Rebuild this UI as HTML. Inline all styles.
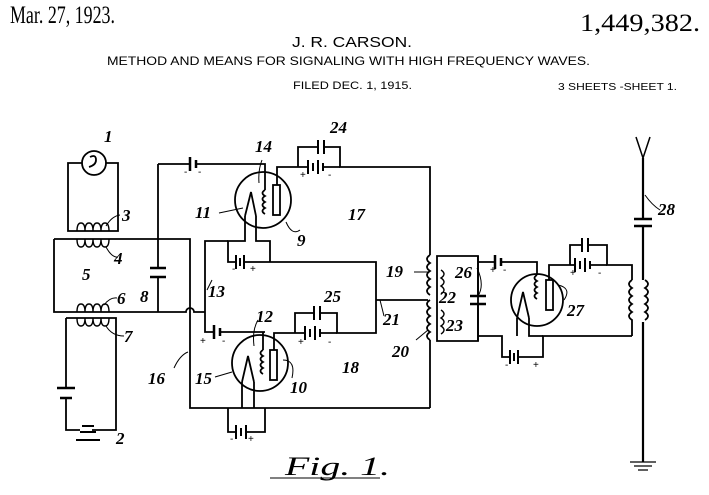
<!DOCTYPE html>
<html><head><meta charset="utf-8"><style>
html,body{margin:0;padding:0;background:#fff;}
svg{display:block;}
text{font-family:"Liberation Sans",sans-serif;fill:#000;}
.s{font-family:"Liberation Serif",serif;}
.n{font-family:"Liberation Serif",serif;font-style:italic;font-weight:bold;font-size:17px;}
</style></head><body>
<svg width="709" height="495" viewBox="0 0 709 495" xmlns="http://www.w3.org/2000/svg">
<g>
<text class="s" x="10" y="23" font-size="25" textLength="105" lengthAdjust="spacingAndGlyphs">Mar. 27, 1923.</text>
<text class="s" x="580" y="31" font-size="25" textLength="120" lengthAdjust="spacingAndGlyphs">1,449,382.</text>
<text x="292" y="47" font-size="15" textLength="120" lengthAdjust="spacingAndGlyphs">J. R. CARSON.</text>
<text x="107" y="65" font-size="12" textLength="483" lengthAdjust="spacingAndGlyphs">METHOD AND MEANS FOR SIGNALING WITH HIGH FREQUENCY WAVES.</text>
<text x="293" y="89" font-size="11" textLength="119" lengthAdjust="spacingAndGlyphs">FILED DEC. 1, 1915.</text>
<text x="558" y="90" font-size="10" textLength="119" lengthAdjust="spacingAndGlyphs">3 SHEETS -SHEET 1.</text>
</g>
<g fill="none" stroke="#000" stroke-width="1.8">
<circle cx="94" cy="163" r="12"/>
<path d="M90 157 q6 -3 6 3 q0 5 -7 7"/>
<path d="M82 163 H68 V231 H118 V163 H106"/>
<path d="M54 239 H158 M54 239 V312 H158"/>
<path d="M158 239 H190 V408 H430"/>
<path d="M158 312 H186 a4 4 0 0 1 8 0 H205"/>
<path d="M158 164 V268 M158 277 V312"/>
<path d="M150 268 H166 M150 277 H166" stroke-width="2.5"/>
<path d="M158 164 H190 M196 164 H265 V190"/>
<path d="M190 157 V171 M196 160 V168" stroke-width="2.5"/>
<circle cx="263" cy="200" r="28"/>
<path d="M245 216 L251 192 L256 216"/>
<path d="M265 190 q-5 3 0 6 q-5 3 0 6 q-5 3 0 6 q-5 3 0 6"/>
<rect x="273" y="185" width="7" height="30"/>
<path d="M277 185 V167 H298"/>
<path d="M245 216 V241 H228 V262 H236 M256 216 V241 H270 V262 H245 M270 262 H376 V333 H336"/>
<path d="M236 255 V269 M240 258 V266 M244 255 V269" stroke-width="2"/>
<path d="M228 241 H205 V332 H214 M220 332 H265"/>
<path d="M214 325 V339 M220 328 V336" stroke-width="2.5"/>
<path d="M298 167 V147 H318 M324 147 H340 V167 H430 V255"/>
<path d="M318 140 V154 M324 140 V154" stroke-width="2"/>
<path d="M308 160 V174 M313 163 V171 M318 160 V174 M323 163 V171" stroke-width="2"/>
<path d="M298 167 H308 M323 167 H340"/>
<circle cx="260" cy="363" r="28"/>
<path d="M242 382 L248 356 L254 382"/>
<path d="M263 350 q-5 3 0 6 q-5 3 0 6 q-5 3 0 6 q-5 3 0 6"/>
<rect x="270" y="350" width="7" height="30"/>
<path d="M263 350 V332 M274 350 V333 H295"/>
<path d="M242 382 V408 M254 382 V408 M228 408 V432 H236 M246 432 H265 V408"/>
<path d="M236 425 V439 M241 428 V436 M246 425 V439" stroke-width="2"/>
<path d="M295 333 V313 H314 M320 313 H337 V333"/>
<path d="M314 306 V320 M320 306 V320" stroke-width="2"/>
<path d="M305 326 V340 M310 329 V337 M315 326 V340 M320 329 V337" stroke-width="2"/>
<path d="M295 333 H305 M320 333 H337"/>
<path d="M430 340 V408 M428 300 H376"/>
<path d="M430 255 q-6 4 0 8 q-6 4 0 8 q-6 4 0 8 q-6 4 0 8 q-6 4 0 8 M430 300 q-6 4 0 8 q-6 4 0 8 q-6 4 0 8 q-6 4 0 8 q-6 4 0 8"/>
<path d="M437 256 H478 V341 H437 Z"/>
<path d="M441 270 q6 4 0 8 q6 4 0 8 q6 4 0 8 M441 310 q6 4 0 8 q6 4 0 8 q6 4 0 8" stroke-width="1.4"/>
<path d="M478 256 V296 M478 304 V341"/>
<path d="M470 296 H486 M470 304 H486" stroke-width="2.5"/>
<path d="M478 262 H495 M501 262 H537 V275 M478 336 H502 V357 H510 M518 357 H543 V336 H632"/>
<path d="M495 255 V269 M501 258 V266" stroke-width="2.5"/>
<path d="M510 350 V364 M514 353 V361 M518 350 V364" stroke-width="2"/>
<circle cx="537" cy="300" r="26"/>
<path d="M517 318 L523 292 L529 318"/>
<path d="M537 275 q-5 3 0 6 q-5 3 0 6 q-5 3 0 6 q-5 3 0 6"/>
<rect x="546" y="280" width="7" height="30"/>
<path d="M517 318 V336 M529 318 V336 H543"/>
<path d="M549 280 V265 H567 M570 265 V245 H582 M588 245 H607 V265 H632 V280"/>
<path d="M582 238 V252 M588 238 V252" stroke-width="2"/>
<path d="M575 258 V272 M580 261 V269 M585 258 V272 M590 261 V269" stroke-width="2"/>
<path d="M567 265 H575 M590 265 H607"/>
<path d="M632 280 q-6 4 0 8 q-6 4 0 8 q-6 4 0 8 q-6 4 0 8 q-6 4 0 8 V336"/>
<path d="M643 158 V219 M643 226 V280 M643 322 V462" stroke-width="2.2"/>
<path d="M636 137 L643 158 L650 137" stroke-width="1.5"/>
<path d="M634 219 H652 M634 226 H652" stroke-width="2.5"/>
<path d="M645 280 q6 4 0 8 q6 4 0 8 q6 4 0 8 q6 4 0 8 q6 4 0 8"/>
<path d="M630 462 H656 M634 466 H652 M638 470 H648" stroke-width="1.3"/>
<path d="M77 231 q0 -8 4 -8 q4 0 4 8 q0 -8 4 -8 q4 0 4 8 q0 -8 4 -8 q4 0 4 8 q0 -8 4 -8 q4 0 4 8" stroke-width="1.4"/>
<path d="M77 239 q0 8 4 8 q4 0 4 -8 q0 8 4 8 q4 0 4 -8 q0 8 4 8 q4 0 4 -8 q0 8 4 8 q4 0 4 -8" stroke-width="1.4"/>
<path d="M77 312 q0 -8 4 -8 q4 0 4 8 q0 -8 4 -8 q4 0 4 8 q0 -8 4 -8 q4 0 4 8 q0 -8 4 -8 q4 0 4 8" stroke-width="1.4"/>
<path d="M77 318 q0 8 4 8 q4 0 4 -8 q0 8 4 8 q4 0 4 -8 q0 8 4 8 q4 0 4 -8 q0 8 4 8 q4 0 4 -8" stroke-width="1.4"/>
<path d="M66 318 H116 V430 H92 M66 318 V388 M66 398 V430 H80"/>
<path d="M57 388 H75 M60 398 H72" stroke-width="2.5"/>
<path d="M80 432 H96 M82 426 H94 M76 440 H100" stroke-width="2"/>
<path d="M106 226 Q112 216 120 215 M106 247 Q112 258 118 257 M104 305 Q110 297 117 298 M106 326 Q112 336 124 336 M243 208 L219 213 M259 183 Q258 170 262 160 M286 222 Q292 236 300 230 M254 346 Q252 330 258 320 M232 372 L215 377 M283 360 Q296 360 292 378 M188 352 Q180 355 174 368 M212 280 L207 290 M428 272 L414 272 M380 300 Q382 308 384 316 M428 330 L416 340 M477 268 Q485 285 478 296 M558 285 Q572 288 564 300 M645 195 Q652 205 660 210" stroke-width="1"/>
</g>
<g>
<text class="n" x="104" y="142">1</text>
<text class="n" x="116" y="444">2</text>
<text class="n" x="122" y="221">3</text>
<text class="n" x="114" y="264">4</text>
<text class="n" x="82" y="280">5</text>
<text class="n" x="117" y="304">6</text>
<text class="n" x="124" y="342">7</text>
<text class="n" x="140" y="302">8</text>
<text class="n" x="297" y="246">9</text>
<text class="n" x="290" y="393">10</text>
<text class="n" x="195" y="218">11</text>
<text class="n" x="256" y="322">12</text>
<text class="n" x="208" y="297">13</text>
<text class="n" x="255" y="152">14</text>
<text class="n" x="195" y="384">15</text>
<text class="n" x="148" y="384">16</text>
<text class="n" x="348" y="220">17</text>
<text class="n" x="342" y="373">18</text>
<text class="n" x="386" y="277">19</text>
<text class="n" x="392" y="357">20</text>
<text class="n" x="383" y="325">21</text>
<text class="n" x="439" y="303">22</text>
<text class="n" x="446" y="331">23</text>
<text class="n" x="330" y="133">24</text>
<text class="n" x="324" y="302">25</text>
<text class="n" x="455" y="278">26</text>
<text class="n" x="567" y="316">27</text>
<text class="n" x="658" y="215">28</text>
<text x="184" y="175" font-size="10">-</text><text x="198" y="175" font-size="10">-</text>
<text x="200" y="344" font-size="10">+</text><text x="222" y="344" font-size="10">-</text>
<text x="300" y="178" font-size="10">+</text><text x="328" y="178" font-size="10">-</text>
<text x="298" y="345" font-size="10">+</text><text x="328" y="345" font-size="10">-</text>
<text x="232" y="272" font-size="10">-</text><text x="250" y="272" font-size="10">+</text>
<text x="230" y="442" font-size="10">-</text><text x="248" y="442" font-size="10">+</text>
<text x="490" y="273" font-size="10">+</text><text x="503" y="273" font-size="10">-</text>
<text x="570" y="276" font-size="10">+</text><text x="598" y="276" font-size="10">-</text>
<text x="505" y="368" font-size="10">-</text><text x="533" y="368" font-size="10">+</text>
<text class="s" x="285" y="475" font-size="26" font-style="italic" textLength="105" lengthAdjust="spacingAndGlyphs">Fig. 1.</text>
</g>
<path d="M270 478 H380" stroke="#000" stroke-width="1"/>
</svg>
</body></html>
